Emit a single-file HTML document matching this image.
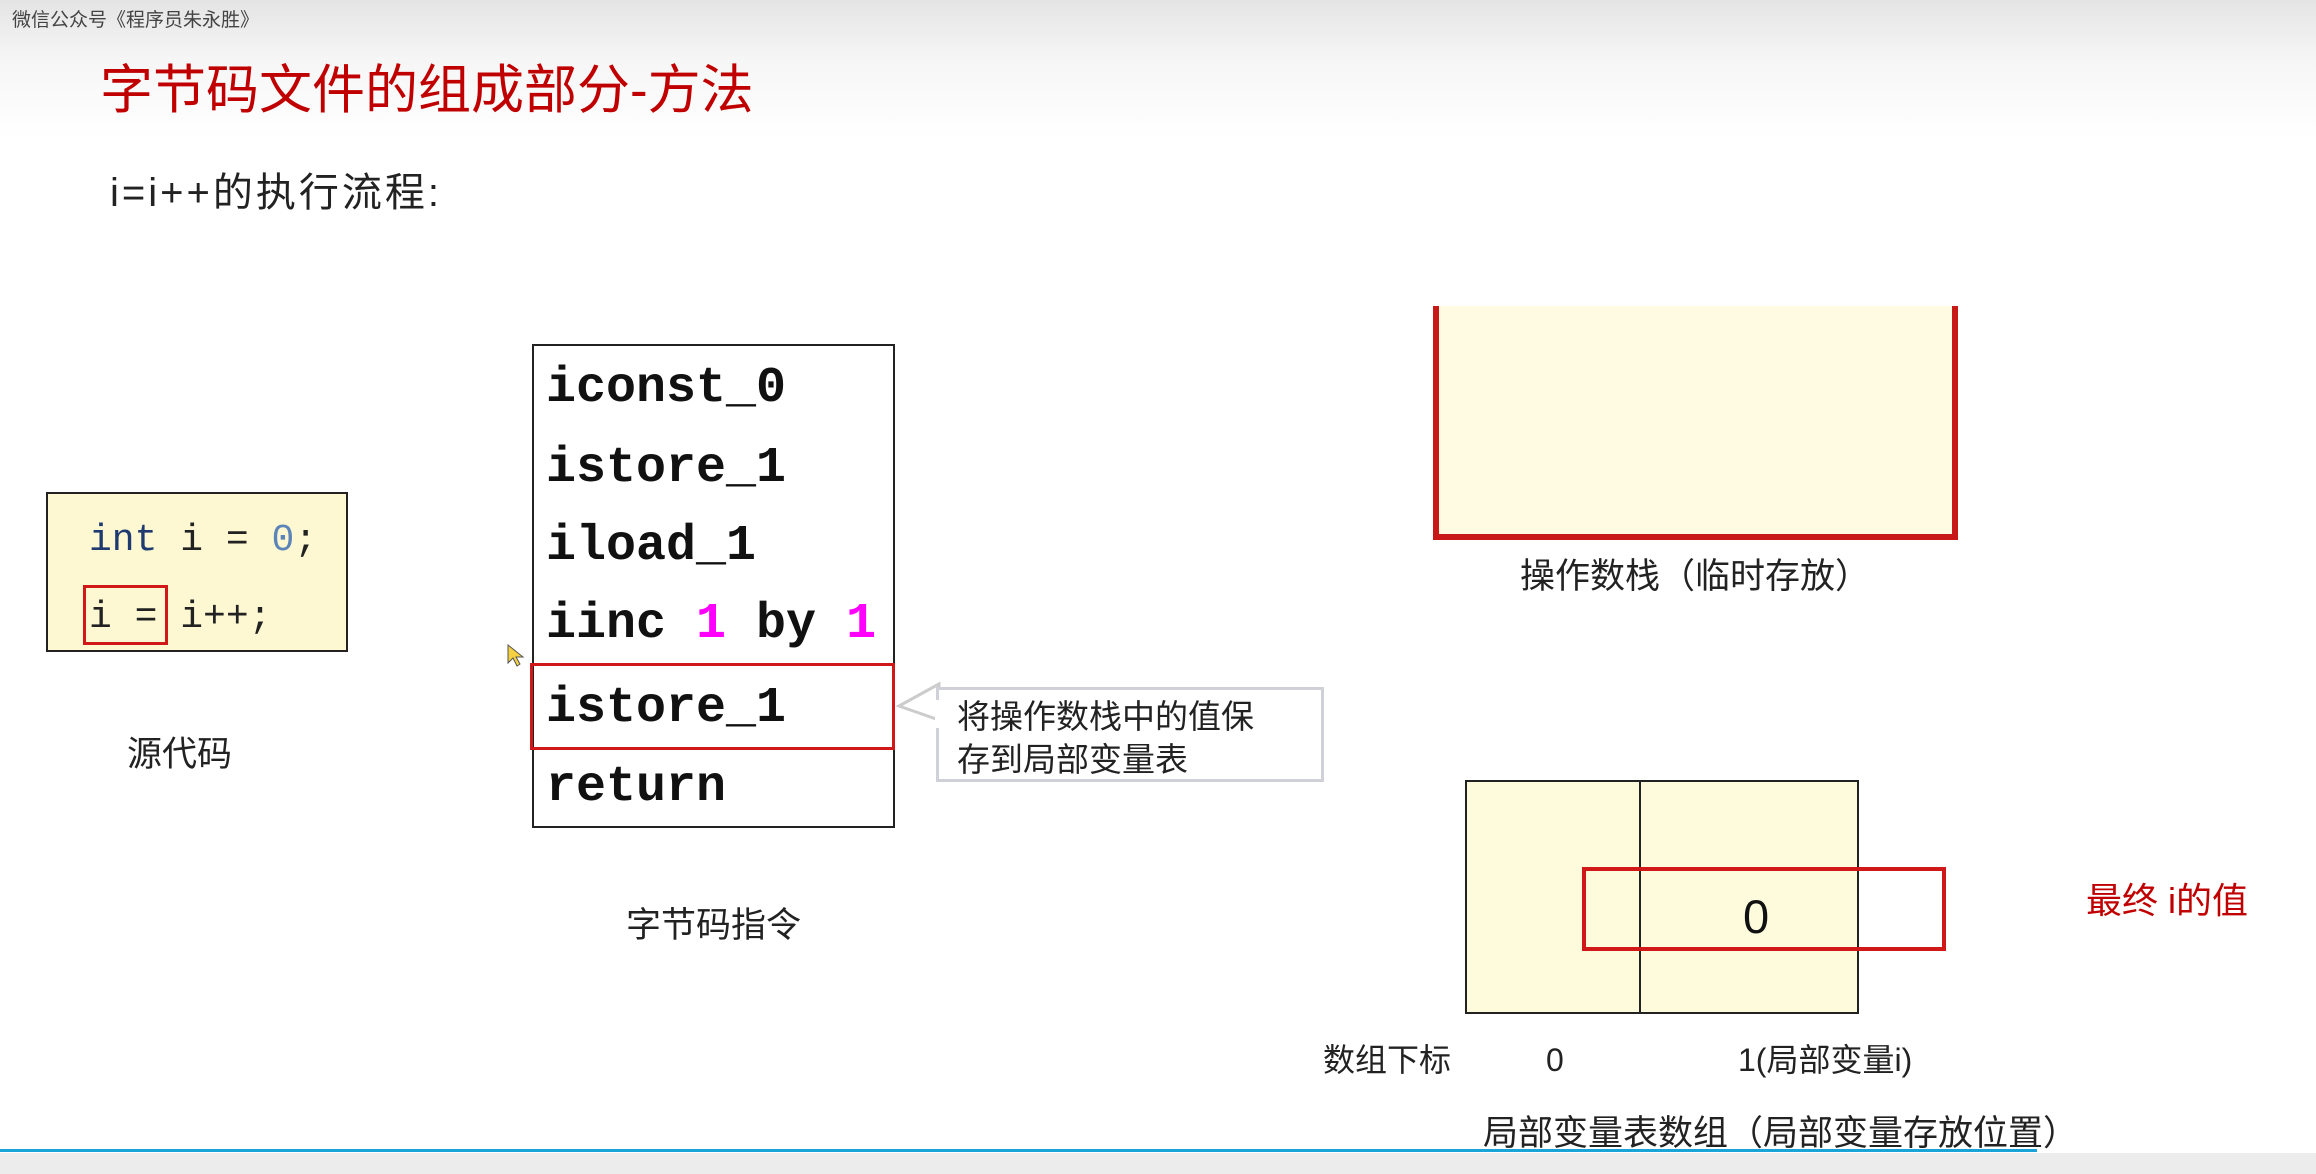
<!DOCTYPE html>
<html><head><meta charset="utf-8"><style>
body{margin:0;width:2316px;height:1174px;position:relative;overflow:hidden;background:linear-gradient(#e4e4e4 0px,#f6f6f6 60px,#fff 140px,#fff);font-family:"Liberation Sans","Noto Sans CJK SC",sans-serif;}
.a{position:absolute;white-space:nowrap;line-height:1;}
.box{position:absolute;box-sizing:border-box;}
.bc{position:absolute;left:12px;font-family:"Liberation Mono","DejaVu Sans Mono",monospace;font-weight:bold;font-size:50px;color:#111;line-height:1;}
.m{color:#ff00ff}
</style></head><body>
<div class="a" style="left:12px;top:11px;font-size:19px;color:#444">微信公众号《程序员朱永胜》</div>
<div class="a" style="left:100px;top:64px;font-size:53px;color:#c00000">字节码文件的组成部分-方法</div>
<div class="a" style="left:110px;top:173px;font-size:40px;color:#222;letter-spacing:3px">i=i++的执行流程:</div>

<div class="box" style="left:46px;top:492px;width:302px;height:160px;background:#fdf8d2;border:2px solid #222"></div>
<div class="a" style="left:89px;top:522px;font-size:38px;font-family:'Liberation Mono',monospace;color:#222"><span style="color:#1f3a70">int</span> i = <span style="color:#5b84b8">0</span>;</div>
<div class="a" style="left:89px;top:599px;font-size:38px;font-family:'Liberation Mono',monospace;color:#222">i = i++;</div>
<div class="box" style="left:83px;top:585px;width:85px;height:60px;border:3px solid #d01818"></div>
<div class="a" style="left:127px;top:737px;font-size:35px;color:#222">源代码</div>

<div class="box" style="left:532px;top:344px;width:363px;height:484px;background:#fff;border:2px solid #222">
<div class="bc" style="top:18px">iconst_0</div>
<div class="bc" style="top:98px">istore_1</div>
<div class="bc" style="top:176px">iload_1</div>
<div class="bc" style="top:254px">iinc <span class="m">1</span> by <span class="m">1</span></div>
<div class="bc" style="top:338px">istore_1</div>
<div class="bc" style="top:417px">return</div>
</div>
<div class="box" style="left:530px;top:663px;width:365px;height:87px;border:3px solid #d01818"></div>
<svg class="box" style="left:895px;top:680px" width="50" height="60"><polygon points="44,4 4,26 44,40" fill="#fff" stroke="#ccc" stroke-width="3"/></svg>
<div class="box" style="left:936px;top:687px;width:388px;height:95px;background:#fff;border:3px solid #d0d0d8"></div>
<div class="box" style="left:935px;top:700px;width:8px;height:28px;background:#fff"></div>
<div class="a" style="left:957px;top:695px;font-size:33px;color:#222;line-height:43px">将操作数栈中的值保<br>存到局部变量表</div>
<div class="a" style="left:626px;top:908px;font-size:35px;color:#222">字节码指令</div>

<div class="box" style="left:1433px;top:306px;width:525px;height:234px;background:#fffbe2;border:6px solid #c81818;border-top:none"></div>
<div class="a" style="left:1520px;top:559px;font-size:35px;color:#222">操作数栈（临时存放）</div>

<div class="box" style="left:1465px;top:780px;width:394px;height:234px;background:#fdfbdc;border:2px solid #222"></div>
<div class="box" style="left:1639px;top:780px;width:2px;height:234px;background:#222"></div>
<div class="box" style="left:1582px;top:867px;width:364px;height:84px;border:4px solid #d01818"></div>
<div class="a" style="left:1743px;top:893px;font-size:47px;color:#111">0</div>
<div class="a" style="left:2086px;top:883px;font-size:36px;color:#c00000">最终 i的值</div>
<div class="a" style="left:1323px;top:1044px;font-size:32px;color:#222">数组下标</div>
<div class="a" style="left:1546px;top:1044px;font-size:32px;color:#222">0</div>
<div class="a" style="left:1738px;top:1044px;font-size:32px;color:#222">1(局部变量i)</div>
<div class="a" style="left:1483px;top:1116px;font-size:35px;color:#222">局部变量表数组（局部变量存放位置）</div>

<div class="box" style="left:0;top:1149px;width:2037px;height:3px;background:#1aa3d9"></div>
<div class="box" style="left:0;top:1153px;width:2316px;height:21px;background:#ececec"></div>
<svg class="box" style="left:506px;top:643px" width="20" height="26"><polygon points="2,2 2,20 7,15 11,23 14,21 10,14 17,14" fill="#f5d040" stroke="#555" stroke-width="1"/></svg>
</body></html>
